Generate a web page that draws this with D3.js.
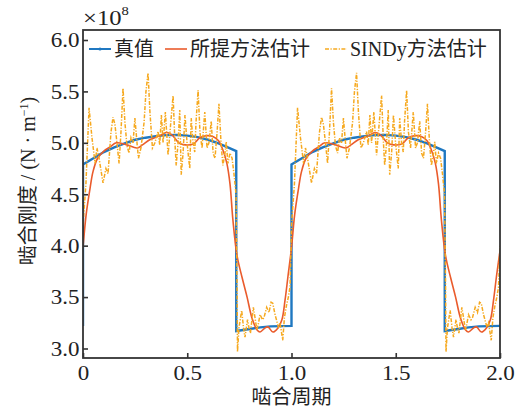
<!DOCTYPE html>
<html><head><meta charset="utf-8">
<script src="https://cdn.jsdelivr.net/npm/d3@7"></script>
<style>body{margin:0;background:#fff}</style>
</head><body><svg id="c" width="517" height="411"></svg>
<script>
// ---------------- data ----------------
const xTicks = [0, 0.5, 1.0, 1.5, 2.0];
const xTickLabels = ["0", "0.5", "1.0", "1.5", "2.0"];
const yTicks = [3.0, 3.5, 4.0, 4.5, 5.0, 5.5, 6.0];
const yTickLabels = ["3.0", "3.5", "4.0", "4.5", "5.0", "5.5", "6.0"];
const seriesNames = ["真值", "所提方法估计", "SINDy方法估计"];
const periods = [0, 1];            // two mesh periods shown
const xEnd = 2.0;

// true stiffness, one period (x in mesh periods, value ×1e8 N/m)
const trueX = [0, 0, 0.05, 0.1, 0.15, 0.2, 0.25, 0.3, 0.35, 0.4, 0.45, 0.5, 0.55, 0.6, 0.65, 0.7, 0.735, 0.735, 0.8, 0.85, 0.9, 0.95];
const trueY = [3.22, 4.79, 4.85, 4.91, 4.955, 4.995, 5.03, 5.05, 5.065, 5.075, 5.077, 5.07, 5.055, 5.03, 4.995, 4.95, 4.92, 3.17, 3.19, 3.205, 3.215, 3.218];
const trueEnd = 3.22;

// proposed method estimate, one period
const propX = [0, 0.015, 0.034, 0.048, 0.07, 0.1, 0.13, 0.16, 0.21, 0.26, 0.285, 0.32, 0.37, 0.40, 0.425, 0.46, 0.49, 0.53, 0.56, 0.595, 0.625, 0.65, 0.671, 0.69, 0.705, 0.719, 0.739, 0.763, 0.787, 0.81, 0.835, 0.849, 0.873, 0.887, 0.911, 0.935, 0.954, 0.969, 0.983];
const propY = [3.98, 4.3, 4.56, 4.72, 4.85, 4.92, 4.96, 5.0, 4.98, 4.95, 4.98, 5.03, 5.07, 5.1, 5.08, 5.0, 4.98, 4.99, 5.05, 5.07, 5.06, 5.02, 4.93, 4.8, 4.6, 4.25, 3.9, 3.69, 3.5, 3.3, 3.18, 3.16, 3.2, 3.21, 3.16, 3.2, 3.28, 3.47, 3.7];
const propEnd = 3.95;

// SINDy estimate, one period
const sindyX = [0, 0.014, 0.029, 0.043, 0.058, 0.067, 0.077, 0.096, 0.110, 0.120, 0.134, 0.144, 0.153, 0.163, 0.173, 0.182, 0.192, 0.201, 0.211, 0.221, 0.230, 0.240, 0.249, 0.259, 0.266, 0.278, 0.293, 0.302, 0.312, 0.321, 0.333, 0.345, 0.360, 0.368, 0.376, 0.384, 0.395, 0.408, 0.417, 0.432, 0.441, 0.447, 0.456, 0.464, 0.471, 0.480, 0.489, 0.499, 0.512, 0.519, 0.528, 0.536, 0.542, 0.552, 0.561, 0.571, 0.584, 0.595, 0.604, 0.615, 0.624, 0.633, 0.643, 0.652, 0.662, 0.671, 0.681, 0.687, 0.695, 0.705, 0.715, 0.724, 0.734, 0.739, 0.741, 0.748, 0.761, 0.770, 0.777, 0.789, 0.796, 0.803, 0.817, 0.825, 0.834, 0.842, 0.849, 0.861, 0.868, 0.881, 0.892, 0.902, 0.910, 0.921, 0.937, 0.945, 0.958, 0.966, 0.976, 0.985, 0.993];
const sindyY = [4.2, 4.6, 5.34, 5.05, 4.80, 4.95, 4.85, 4.61, 4.75, 4.70, 5.10, 5.25, 5.18, 5.00, 4.80, 5.10, 5.53, 5.20, 4.97, 4.90, 5.05, 5.00, 5.24, 5.00, 4.85, 4.95, 5.20, 5.50, 5.68, 5.30, 4.95, 5.00, 5.11, 4.98, 5.27, 5.00, 5.30, 4.88, 5.10, 5.46, 5.00, 4.78, 5.00, 5.32, 4.69, 4.90, 5.27, 5.00, 4.75, 5.24, 5.00, 4.91, 5.20, 5.51, 5.10, 4.95, 5.30, 4.95, 5.00, 5.21, 4.90, 4.85, 5.10, 5.38, 5.00, 4.78, 4.90, 5.01, 4.80, 4.90, 4.85, 4.70, 4.50, 3.60, 2.97, 3.20, 3.37, 3.20, 3.11, 3.28, 3.20, 3.15, 3.40, 3.30, 3.18, 3.25, 3.33, 3.28, 3.30, 3.40, 3.35, 3.45, 3.44, 3.33, 3.21, 3.25, 3.08, 3.30, 3.42, 3.50, 3.60];
const sindyEnd = 4.0;

const colors = ["#1f78c1", "#ea5b2c", "#f6a91f"];

// ---------------- build series ----------------
function build(xs, ys, endV) {
  const out = [];
  periods.forEach(p => xs.forEach((x, i) => out.push([x + p, ys[i]])));
  out.push([xEnd, endV]);
  return out;
}
const trueData = build(trueX, trueY, trueEnd);
const propData = build(propX, propY, propEnd);
const sindyData = build(sindyX, sindyY, sindyEnd);

// ---------------- layout ----------------
const L = 83, R = 500, T = 30, B = 358;
const svg = d3.select("#c");
const x = d3.scaleLinear().domain([0, 2]).range([L, R]);
const y = d3.scaleLinear().domain([2.9076, 6.0972]).range([B, T]);
const serif = "'Liberation Serif','Times New Roman',serif";
const cjk = "'Liberation Serif','Noto Sans CJK SC',serif";

svg.append("clipPath").attr("id", "clip").append("rect")
  .attr("x", L).attr("y", T).attr("width", R - L).attr("height", B - T);

const g = svg.append("g").attr("clip-path", "url(#clip)");
const line = d3.line().x(d => x(d[0])).y(d => y(d[1]));

g.append("path").datum(trueData).attr("d", line)
  .attr("fill", "none").attr("stroke", colors[0]).attr("stroke-width", 2.4);
g.append("path").datum(propData).attr("d", d3.line().x(d => x(d[0])).y(d => y(d[1])).curve(d3.curveCatmullRom.alpha(0.5)))
  .attr("fill", "none").attr("stroke", colors[1]).attr("stroke-width", 1.6);
g.append("path").datum(sindyData).attr("d", line)
  .attr("fill", "none").attr("stroke", colors[2]).attr("stroke-width", 1.5)
  .attr("stroke-dasharray", "4,1.5,1.2,1.5");

// axes
const xAxis = d3.axisBottom(x).tickValues(xTicks).tickFormat((d, i) => xTickLabels[i])
  .tickSizeInner(-5).tickSizeOuter(0).tickPadding(8);
const yAxis = d3.axisLeft(y).tickValues(yTicks).tickFormat((d, i) => yTickLabels[i])
  .tickSizeInner(-5).tickSizeOuter(0).tickPadding(3);
const gx = svg.append("g").attr("transform", `translate(0,${B})`).call(xAxis);
const gy = svg.append("g").attr("transform", `translate(${L},0)`).call(yAxis);
[gx, gy].forEach(a => {
  a.select(".domain").remove();
  a.selectAll(".tick line").attr("stroke", "#333").attr("stroke-width", 1.6);
  a.selectAll(".tick text").attr("fill", "#222").style("font-family", serif).style("font-size", "20px")
    .attr("transform", "scale(1.15,1)");
});
gy.selectAll(".tick text").attr("dy", "0.34em");

svg.append("rect").attr("x", L).attr("y", T).attr("width", R - L).attr("height", B - T)
  .attr("fill", "none").attr("stroke", "#333").attr("stroke-width", 1.8);

// exponent label
const ex = svg.append("text").attr("transform", `translate(${L},25) scale(1.12,1)`).attr("fill", "#222")
  .style("font-family", serif).style("font-size", "22px");
ex.append("tspan").text("×10");
ex.append("tspan").attr("dy", -10).style("font-size", "13px").text("8");

// axis titles
svg.append("text").attr("x", (L + R) / 2).attr("y", 404).attr("text-anchor", "middle")
  .attr("fill", "#222").style("font-family", cjk).style("font-size", "20px").text("啮合周期");
const yl = svg.append("text").attr("transform", "translate(35,181) rotate(-90)")
  .attr("text-anchor", "middle").attr("fill", "#222")
  .style("font-family", cjk).style("font-size", "20px");
yl.append("tspan").text("啮合刚度 / (N · m");
yl.append("tspan").attr("dy", -7).style("font-size", "12px").text("−1");
yl.append("tspan").attr("dy", 7).text(")");

// legend
const legX = [89, 165, 325];
const legG = svg.append("g");
seriesNames.forEach((name, i) => {
  const gg = legG.append("g");
  const ln = gg.append("line").attr("x1", legX[i]).attr("x2", legX[i] + 22)
    .attr("y1", 49).attr("y2", 49).attr("stroke", colors[i])
    .attr("stroke-width", i === 0 ? 2 : (i === 1 ? 1.6 : 1.5));
  if (i === 2) ln.attr("stroke-dasharray", "4,1.5,1.2,1.5");
  if (i === 0) gg.append("circle").attr("cx", legX[i] + 11).attr("cy", 49).attr("r", 1.6).attr("fill", colors[0]);
  gg.append("text").attr("x", legX[i] + 25).attr("y", 49).attr("dy", "0.35em")
    .attr("fill", "#222").style("font-family", cjk).style("font-size", "20px").text(name);
});
</script></body></html>
